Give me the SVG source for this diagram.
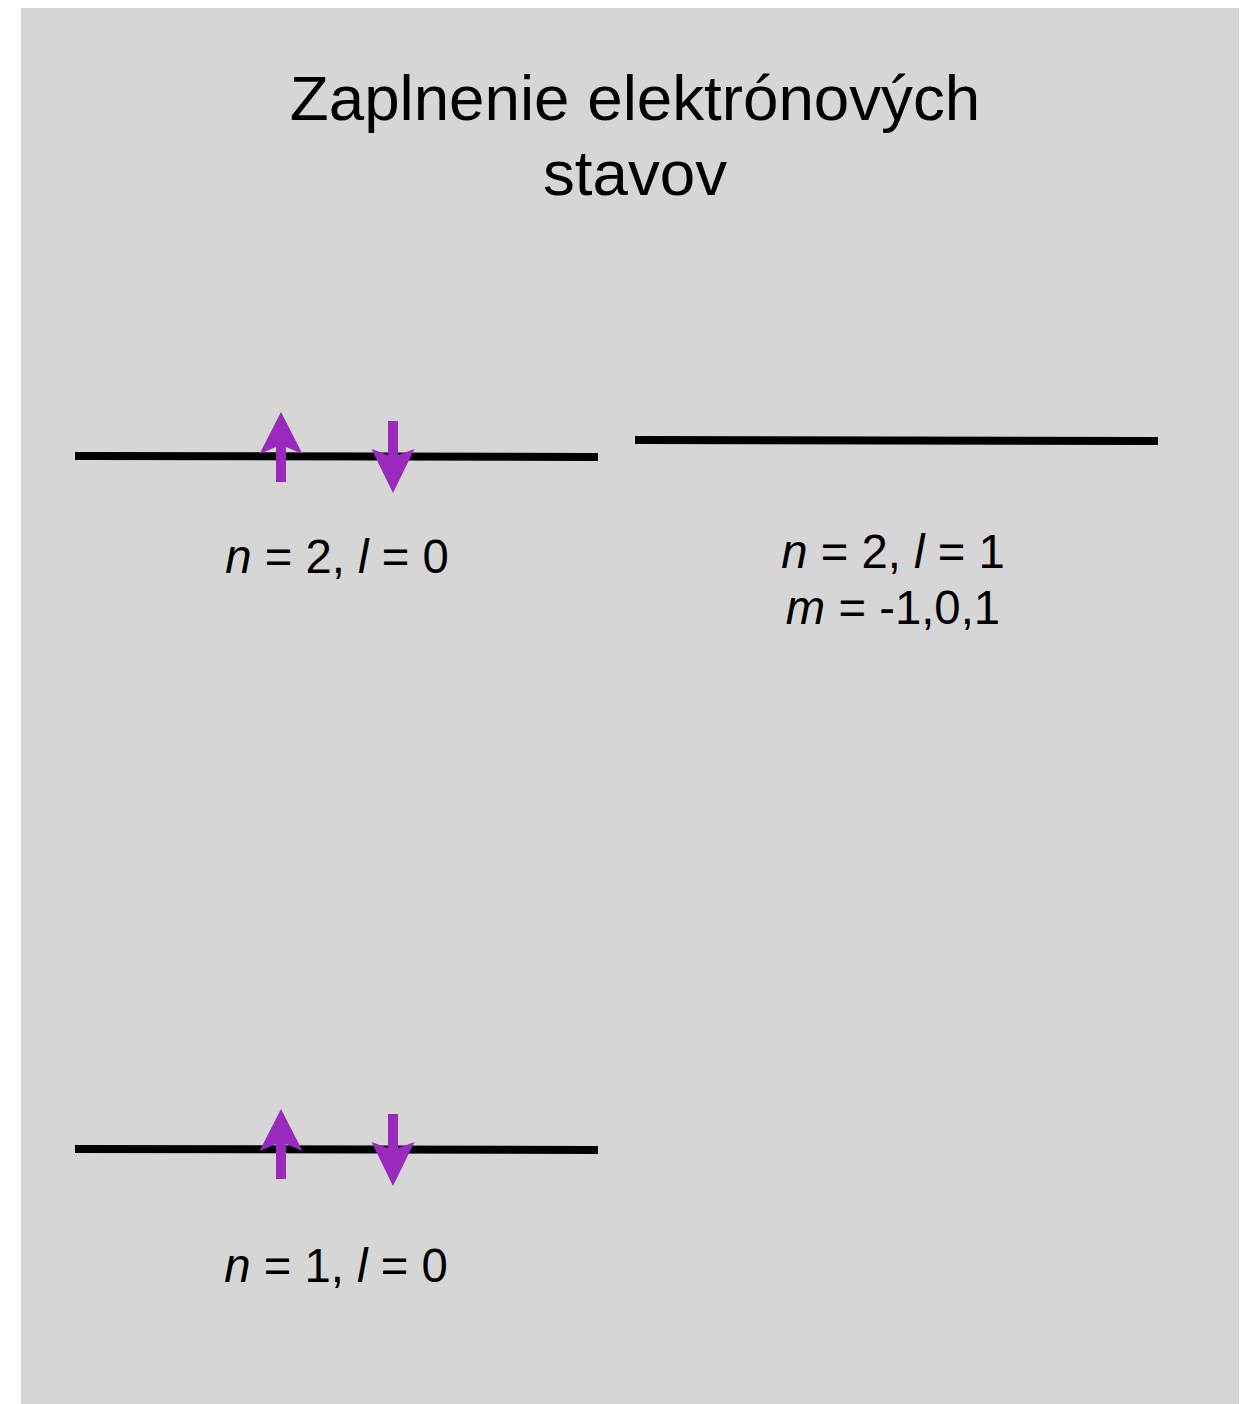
<svg xmlns="http://www.w3.org/2000/svg" width="1251" height="1404" viewBox="0 0 1251 1404">
<style>
.lvl{stroke:#000;stroke-width:8;fill:none}
.spin{fill:#9A2ABD}
text{font-family:"Liberation Sans",Arial,sans-serif;fill:#000}
.title{font-size:63.7px;text-anchor:middle}
.lbl{font-size:47.3px;text-anchor:middle}
</style>
<defs>
<path id="up" class="spin" d="M0,0 L21.5,42 L5,35 L5,70 L-5,70 L-5,35 L-21.5,42 Z"/>
<path id="down" class="spin" d="M0,0 L21.5,-44 L5,-38 L5,-72 L-5,-72 L-5,-38 L-21.5,-44 Z"/>
</defs>
<rect x="21" y="8" width="1218" height="1396" fill="#D6D6D6"/>
<g id="title">
<text class="title" x="635" y="120">Zaplnenie elektrónových</text>
<text class="title" x="635" y="195">stavov</text>
</g>
<g id="level-2s">
<line class="lvl" x1="75" y1="456" x2="598" y2="457"/>
<use href="#up" x="281" y="412"/>
<use href="#down" x="393" y="493"/>
<text class="lbl" x="337" y="573"><tspan font-style="italic">n</tspan> = 2, <tspan font-style="italic">l</tspan> = 0</text>
</g>
<g id="level-2p">
<line class="lvl" x1="635" y1="440" x2="1158" y2="441"/>
<text class="lbl" x="893" y="568"><tspan font-style="italic">n</tspan> = 2, <tspan font-style="italic">l</tspan> = 1</text>
<text class="lbl" x="893" y="624"><tspan font-style="italic">m</tspan> = -1,0,1</text>
</g>
<g id="level-1s">
<line class="lvl" x1="75" y1="1149" x2="598" y2="1150"/>
<use href="#up" x="281" y="1109"/>
<use href="#down" x="393" y="1186"/>
<text class="lbl" x="336" y="1282"><tspan font-style="italic">n</tspan> = 1, <tspan font-style="italic">l</tspan> = 0</text>
</g>
<g id="connectors"></g>
</svg>
